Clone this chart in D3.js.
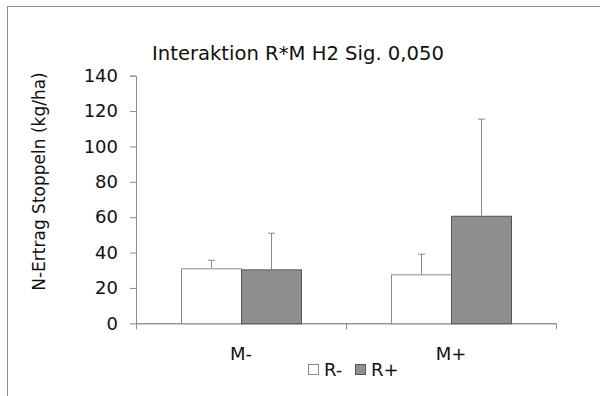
<!DOCTYPE html>
<html>
<head>
<meta charset="utf-8">
<script src="https://cdn.jsdelivr.net/npm/d3@7"></script>
<style>
  body { margin: 0; background: #fff; }
  svg { display: block; font-family: "DejaVu Sans", Verdana, sans-serif; }
</style>
</head>
<body>
<svg id="chart"></svg>
<script>
// data
const categories = ['M-', 'M+'];
const series = ['R-', 'R+'];
const meanRminus = [31.1, 27.7];
const meanRplus = [30.5, 60.8];
const errRminus = [5.1, 11.5];
const errRplus = [20.5, 54.7];
const yTicks = [0, 20, 40, 60, 80, 100, 120, 140];

const W = 600, H = 396;
const margin = {top: 75.7, right: 44, bottom: 72.7, left: 136};
const width = W - margin.left - margin.right;
const height = H - margin.top - margin.bottom;
const fills = {'R-': '#ffffff', 'R+': '#8f8f8f'};
const strokes = {'R-': '#8a8a8a', 'R+': '#555555'};

const rows = categories.map((c, i) => ({
  cat: c,
  bars: [
    {s: 'R-', v: meanRminus[i], e: errRminus[i]},
    {s: 'R+', v: meanRplus[i], e: errRplus[i]}
  ]
}));

const svg = d3.select('#chart').attr('width', W).attr('height', H);

// outer frame (cut off at the right and bottom in the reference)
svg.append('rect')
   .attr('x', 7.5).attr('y', 6.5)
   .attr('width', W + 20).attr('height', H + 20)
   .attr('fill', 'none').attr('stroke', '#8c8c8c');

const chart = svg.append('g')
                 .attr('transform', `translate(${margin.left}, ${margin.top})`);

/************* scales *************/
const x0 = d3.scaleBand().domain(categories).range([0, width])
             .paddingInner(3 / 7).paddingOuter(3 / 14);
const x1 = d3.scaleBand().domain(series).range([0, x0.bandwidth()]);
const y = d3.scaleLinear().domain([0, 140]).range([height, 0]);

/************* y axis *************/
const yAxis = chart.append('g')
  .call(d3.axisLeft(y).tickValues(yTicks).tickSize(6).tickPadding(12));
yAxis.select('.domain').attr('stroke', '#8c8c8c').attr('d', `M-6,0.5H0.5V${height}`);
yAxis.selectAll('.tick line').attr('stroke', '#8c8c8c');
yAxis.selectAll('text').attr('font-size', 18).attr('fill', '#111')
     .attr('font-family', '"DejaVu Sans", Verdana, sans-serif');

/************* x axis *************/
const xAxis = chart.append('g')
  .attr('transform', `translate(0, ${height})`);
xAxis.append('line')
  .attr('x1', 0).attr('x2', width).attr('y1', 0.5).attr('y2', 0.5)
  .attr('stroke', '#666');
xAxis.selectAll('.xtick')
  .data([0, ...categories.map(c => x0(c) + x0.bandwidth() + x0.step() * x0.paddingInner() / 2)])
  .enter().append('line')
  .attr('x1', d => Math.round(d) + 0.5).attr('x2', d => Math.round(d) + 0.5)
  .attr('y1', 0).attr('y2', 6)
  .attr('stroke', '#8c8c8c');
xAxis.selectAll('.xlabel')
  .data(categories)
  .enter().append('text')
  .attr('x', d => x0(d) + x0.bandwidth() / 2)
  .attr('y', 37)
  .attr('text-anchor', 'middle')
  .attr('font-size', 18)
  .attr('fill', '#111')
  .text(d => d);

/************* bars *************/
const groups = chart.selectAll('.grp')
  .data(rows)
  .enter().append('g')
  .attr('transform', d => `translate(${x0(d.cat)}, 0)`);

groups.selectAll('.bar')
  .data(d => d.bars)
  .enter().append('rect')
  .attr('x', d => x1(d.s) + 0.5)
  .attr('y', d => y(d.v) + 0.5)
  .attr('width', x1.bandwidth())
  .attr('height', d => height - y(d.v))
  .attr('fill', d => fills[d.s])
  .attr('stroke', d => strokes[d.s]);

/************* error bars (upper only) *************/
groups.selectAll('.err')
  .data(d => d.bars)
  .enter().append('path')
  .attr('d', d => {
    const cx = Math.round(x1(d.s) + x1.bandwidth() / 2) + 0.5;
    const top = Math.round(y(d.v + d.e)) + 0.5;
    return `M${cx},${y(d.v)}V${top}M${cx - 3.5},${top}H${cx + 3.5}`;
  })
  .attr('fill', 'none')
  .attr('stroke', '#8a8a8a');

/************* title & labels *************/
svg.append('text')
   .attr('x', 298).attr('y', 60)
   .attr('text-anchor', 'middle')
   .attr('font-size', 19.6)
   .attr('fill', '#111')
   .text('Interaktion R*M H2 Sig. 0,050');

svg.append('text')
   .attr('transform', `translate(45, ${margin.top + height / 2 - 18}) rotate(-90)`)
   .attr('text-anchor', 'middle')
   .attr('font-size', 17)
   .attr('fill', '#111')
   .text('N-Ertrag Stoppeln (kg/ha)');

/************* legend *************/
const legend = svg.append('g').attr('transform', 'translate(308, 364)');
const legendX = [0, 47];
const items = legend.selectAll('.item')
  .data(series)
  .enter().append('g')
  .attr('transform', (d, i) => `translate(${legendX[i]}, 0)`);
items.append('rect')
  .attr('x', 0.5).attr('y', 0.5)
  .attr('width', 10).attr('height', 10)
  .attr('fill', d => fills[d])
  .attr('stroke', d => strokes[d]);
items.append('text')
  .attr('x', 16).attr('y', 11.5)
  .attr('font-size', 18)
  .attr('fill', '#111')
  .text(d => d);
</script>
</body>
</html>
